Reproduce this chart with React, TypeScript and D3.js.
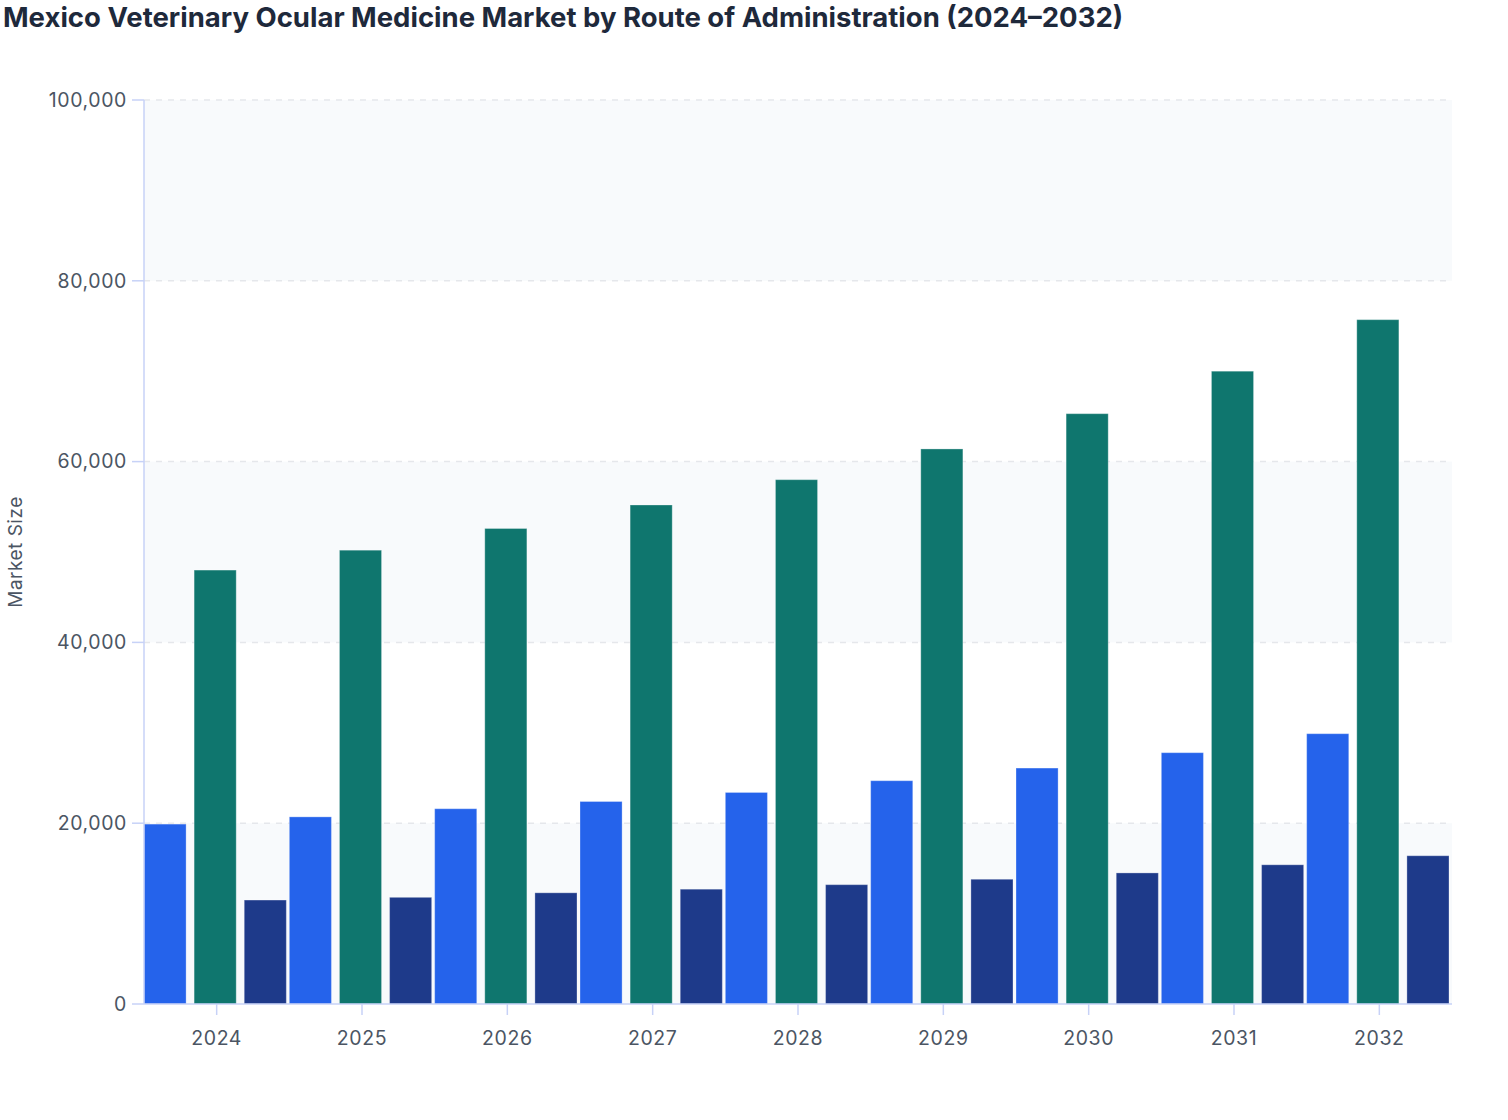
import React from "react";
import * as d3 from "d3";

const years = ["2024", "2025", "2026", "2027", "2028", "2029", "2030", "2031", "2032"];
const seriesNames = ["Topical", "Oral", "Injectable"];
const seriesColors = ["#2563eb", "#0f766e", "#1e3a8a"];
const topical = [19900, 20700, 21600, 22400, 23400, 24700, 26100, 27800, 29900];
const oral = [48000, 50200, 52600, 55200, 58000, 61400, 65300, 70000, 75700];
const injectable = [11500, 11800, 12300, 12700, 13200, 13800, 14500, 15400, 16400];
const yTicks = [0, 20000, 40000, 60000, 80000, 100000];

const W = 1508;
const H = 1100;
const M = { left: 144, right: 56, top: 100, bottom: 96 };

export default function App() {
  const seriesValues = [topical, oral, injectable];
  const x0 = d3.scaleBand().domain(years).range([M.left, W - M.right]).padding(0);
  const innerW = x0.bandwidth() - 3;
  const x1 = d3.scaleBand().domain(seriesNames).range([0, innerW]).paddingInner(0.16).paddingOuter(0);
  const y = d3.scaleLinear().domain([0, 100000]).range([H - M.bottom, M.top]);
  const fmt = d3.format(",");
  const font = "Inter, 'Noto Sans', sans-serif";
  const axisColor = "#c7d2f7";
  const textColor = "#4b5563";

  return (
    <svg
      width={W}
      height={H}
      style={{ display: "block", position: "absolute", left: 0, top: 0 }}
      fontFamily={font}
    >
      <rect width={W} height={H} fill="#ffffff" />
      <text x={3} y={27} fontSize={27.5} fontWeight={700} fill="#1e293b">
        Mexico Veterinary Ocular Medicine Market by Route of Administration (2024–2032)
      </text>
      {/* alternating bands */}
      {yTicks.slice(0, -1).map((t, i) =>
        i % 2 === 0 ? (
          <rect
            key={"band" + t}
            x={M.left}
            width={W - M.right - M.left}
            y={y(yTicks[i + 1])}
            height={y(t) - y(yTicks[i + 1])}
            fill="#f8fafc"
          />
        ) : null
      )}
      {yTicks.slice(1).map((t) => (
        <line
          key={"g" + t}
          x1={M.left}
          x2={W - M.right}
          y1={y(t)}
          y2={y(t)}
          stroke="#e5e7eb"
          strokeWidth={1.5}
          strokeDasharray="6 6"
        />
      ))}
      {years.map((yr, i) => (
        <g key={yr} transform={`translate(${x0(yr)},0)`}>
          {seriesNames.map((s, j) => {
            const v = seriesValues[j][i];
            return (
              <rect
                key={s}
                x={x1(s)}
                y={y(v)}
                width={x1.bandwidth()}
                height={y(0) - y(v)}
                fill={seriesColors[j]}
                stroke="rgba(255,255,255,0.3)"
                strokeWidth={1}
              />
            );
          })}
        </g>
      ))}
      {/* y axis */}
      <line x1={M.left} x2={M.left} y1={M.top} y2={y(0)} stroke={axisColor} strokeWidth={1.5} />
      {yTicks.map((t) => (
        <g key={"yt" + t}>
          <line x1={M.left - 12} x2={M.left} y1={y(t)} y2={y(t)} stroke={axisColor} strokeWidth={1.5} />
          <text
            x={M.left - 17}
            y={y(t)}
            dy="0.35em"
            textAnchor="end"
            fontSize={19.5}
            letterSpacing={0.6}
            fill={textColor}
          >
            {fmt(t)}
          </text>
        </g>
      ))}
      {/* x axis */}
      <line x1={M.left} x2={W - M.right} y1={y(0)} y2={y(0)} stroke={axisColor} strokeWidth={1.5} />
      {years.map((yr) => {
        const cx = (x0(yr) as number) + x0.bandwidth() / 2;
        return (
          <g key={"xt" + yr}>
            <line x1={cx} x2={cx} y1={y(0)} y2={y(0) + 11} stroke={axisColor} strokeWidth={1.5} />
            <text
              x={cx}
              y={y(0) + 41}
              textAnchor="middle"
              fontSize={19.5}
              letterSpacing={0.6}
              fill={textColor}
            >
              {yr}
            </text>
          </g>
        );
      })}
      <text
        transform={`translate(22,${(M.top + y(0)) / 2}) rotate(-90)`}
        textAnchor="middle"
        fontSize={19}
        letterSpacing={0.5}
        fill={textColor}
      >
        Market Size
      </text>
    </svg>
  );
}
